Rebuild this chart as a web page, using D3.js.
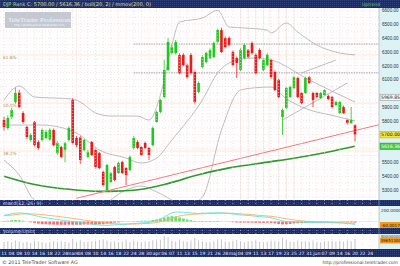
<!DOCTYPE html>
<html>
<head>
<meta charset="utf-8">
<script src="https://cdn.jsdelivr.net/npm/d3@7"></script>
<style>
  body { margin: 0; background: #fff; }
  svg { display: block; font-family: "DejaVu Sans", sans-serif; }
</style>
</head>
<body>
<div id="chart"></div>
<script>
// ---- data ----
const opens = [5806,5748,5828,5936,6005,5857,5756,5662,5792,5647,
  5662,5676,5665,5734,5567,5611,5589,5662,5951,5676,
  5680,5589,5539,5647,5589,5567,5430,5300,5358,5466,
  5423,5502,5459,5444,5604,5647,5611,5640,5604,5625,
  5792,5864,5973,6168,6291,6291,6277,6277,6204,6277,
  6154,6009,6190,6226,6255,6262,6371,6457,6400,6400,
  6298,6255,6168,6255,6313,6363,6277,6313,6168,6204,
  6240,6154,6096,5828,5893,5973,6038,6110,6002,6002,
  6117,6002,6002,5965,5987,5980,5973,5915,5857,5900,
  5806,5785,5770];
const closes = [5756,5821,5879,6002,5900,5792,5683,5698,5625,5604,
  5734,5720,5735,5625,5640,5539,5640,5748,5640,5625,
  5517,5662,5575,5553,5466,5459,5336,5481,5423,5372,
  5495,5423,5408,5539,5676,5604,5553,5604,5553,5748,
  5864,5951,6168,6371,6334,6371,6147,6204,6117,6147,
  5936,6074,6262,6291,6313,6363,6457,6298,6334,6349,
  6204,6219,6313,6349,6262,6291,6147,6255,6240,6277,
  6117,6023,5973,5879,6038,6045,6117,5973,5929,6110,
  6074,5951,5973,6002,6023,5958,5900,5936,5936,5857,
  5785,5806,5700];
const highs = [5830,5840,5895,6040,6025,5870,5765,5710,5800,5660,
  5745,5735,5748,5745,5650,5620,5650,5760,5965,5690,
  5690,5670,5590,5655,5600,5575,5440,5490,5430,5475,
  5505,5512,5468,5550,5690,5660,5620,5650,5610,5760,
  5875,5960,6240,6400,6350,6385,6290,6290,6215,6290,
  6165,6085,6275,6300,6325,6375,6470,6475,6410,6410,
  6310,6265,6325,6360,6320,6375,6290,6325,6250,6290,
  6250,6165,6105,5890,6045,6055,6125,6120,6010,6120,
  6125,6010,6010,6010,6030,5990,5980,5945,5945,5910,
  5815,5900,5775];
const lows = [5730,5735,5815,5925,5890,5780,5670,5650,5610,5590,
  5650,5665,5655,5615,5555,5530,5500,5650,5630,5610,
  5490,5580,5530,5545,5455,5450,5325,5290,5350,5362,
  5415,5415,5336,5435,5595,5595,5545,5595,5517,5615,
  5785,5855,5965,6160,6280,6280,6135,6195,6105,6135,
  5925,6000,6180,6215,6245,6255,6360,6290,6325,6340,
  6195,6110,6160,6245,6255,6280,6135,6245,6160,6195,
  6105,6015,5965,5698,5885,5965,6030,5965,5920,5995,
  6065,5900,5965,5958,5980,5950,5890,5905,5850,5850,
  5775,5778,5650];
// volume, millions
const volumes = [28,31,26,34,30,27,29,25,33,30, 26,24,27,31,29,32,28,26,41,30,
  35,28,27,30,33,36,38,34,29,31, 27,30,36,28,33,29,27,30,31,35,
  34,37,52,48,33,30,36,31,29,34, 44,33,30,28,27,31,35,38,30,29,
  33,36,31,28,30,32,35,29,27,30, 34,33,31,45,36,30,28,33,30,31,
  29,34,28,27,30,31,33,29,32,30, 34,31,40];
const macdLine = [110,120,135,145,150, 145,135,120,105,90,75,65,55,
  45,35,25,15,10,0,-10,-20,-25, -35,-45,-55,-60,-65,-65,-62,-58,-55,
  -50,-45,-40,-35,-30,-25,-20,-15, 0,20,45,80,120,150,165,
  165,160,155,150,140,140,145,145,150,150, 155,150,145,140,130,120,115,110,
  105,100,90,85,80,75,65,50,30, 10,0,-5,-5,-10,-15,-15,-15,-20,-20,
  -20,-20,-20,-22,-22,-25,-28,-35,-40,-50];
const signalLine = [100,105,112,120,127, 132,134,133,130,126,120,113,106,
  98,90,81,72,64,55,46,36,26, 16,6,-3,-12,-20,-27,-33,-38,-41,
  -43,-44,-44,-43,-41,-38,-35,-31, -25,-16,-4,13,34,57,78,
  95,108,118,125,129,132,135,137,140,142, 144,145,145,144,141,137,133,128,
  124,119,113,107,102,96,90,82,72, 60,48,37,28,20,13,7,3,-1,-5,
  -8,-11,-13,-15,-17,-19,-21,-24,-27,-32];

// bands and averages, sampled at candle indices
const upperIdx = [0,4,8,18,20,24,28,35,38,41,44,46,52,56,59,63,69,70,74,77,82,88,92];
const upperVal = [5951,6052,5973,5958,5936,5857,5835,5835,5806,5987,6349,6515,6544,6600,6479,6472,6457,6436,6508,6443,6349,6291,6277];
const midIdx = [0,10,19,25,32,36,40,44,52,56,59,65,70,80,92];
const midVal = [5770,5770,5712,5589,5531,5495,5531,5662,5951,6147,6219,6255,6240,6096,5936];
const lowerIdx = [0,4,8,14,25,32,36,40,48,52,57,62,66,70,74,80,86,92];
const lowerVal = [5517,5408,5227,5180,5190,5300,5329,5286,5191,5249,5734,6023,6040,6045,5960,5880,5840,5800];
const maIdx = [0,8,17,25,30,36,42,51,59,70,76,85,92];
const maVal = [5400,5340,5305,5290,5292,5305,5340,5410,5460,5505,5530,5575,5616];
const trendIdx = [19, 98.4];
const trendVal = [5240, 5773];
const channelA = { idx: [73, 90], val: [5806, 6074] };
const channelB = { idx: [78, 87], val: [6147, 6240] };
const levelLines = [6356, 6147];
const fibVal = [6277, 5929, 5582];
const fibLabels = ["61.8%", "50.0%", "38.2%"];
const markerIdx = [19, 62, 64, 66, 68, 69.5, 72, 74, 76];
const priceTicks = d3.range(5300, 6601, 100);
const dateLabels = ["11","04","08","10","14","16","18","22","24","mars","04","08","10","14","16","18","22","24",
  "28","30","apr","06","07","11","13","15","19","21","26","28","maj","04","09","11","13","17","19","23",
  "25","27","31","jun","07","09","14","16","20","22","24"];

// ---- layout ----
const W = 400, H = 266;
const PLOT = { left: 0, right: 379, top: 8, bottom: 200 };
const VOL = { top: 234, bottom: 249 };
const NAVY = "#1d2b5e";

const svg = d3.select("#chart").append("svg").attr("width", W).attr("height", H);
const defs = svg.append("defs");
const pat = defs.append("pattern").attr("id", "navy").attr("width", 2).attr("height", 2)
  .attr("patternUnits", "userSpaceOnUse");
pat.append("rect").attr("width", 2).attr("height", 2).attr("fill", NAVY);
pat.append("rect").attr("width", 1).attr("height", 1).attr("fill", "#34457e");
defs.append("clipPath").attr("id", "plotclip").append("rect")
  .attr("x", PLOT.left).attr("y", PLOT.top).attr("width", PLOT.right - PLOT.left).attr("height", PLOT.bottom - PLOT.top);

const X = d3.scaleLinear().domain([0, 92]).range([4, 355]);
const Y = d3.scaleLinear().domain([5300, 6600]).range([190, 10.3]);
const YM = d3.scaleLinear().domain([-60, 200]).range([225, 210]);
const YV = d3.scaleLinear().domain([0, 60]).range([VOL.bottom, VOL.top]);

// backgrounds
svg.append("rect").attr("width", W).attr("height", H).attr("fill", "#fff");
svg.append("rect").attr("x", PLOT.right).attr("y", PLOT.top).attr("width", W - PLOT.right).attr("height", VOL.bottom - PLOT.top).attr("fill", "#dcf2f5");
svg.append("rect").attr("x", 0).attr("y", 0).attr("width", W).attr("height", 8).attr("fill", "url(#navy)");
svg.append("rect").attr("x", 0).attr("y", 200).attr("width", W).attr("height", 6).attr("fill", "url(#navy)");
svg.append("rect").attr("x", 0).attr("y", 228).attr("width", W).attr("height", 6).attr("fill", "url(#navy)");
svg.append("rect").attr("x", 0).attr("y", 249).attr("width", W).attr("height", 8).attr("fill", "url(#navy)");

const plot = svg.append("g").attr("clip-path", "url(#plotclip)");

// grid
plot.selectAll("hgrid").data(d3.range(5250, 6651, 50)).enter().append("line")
  .attr("x1", 0).attr("x2", PLOT.right).attr("y1", d => Y(d)).attr("y2", d => Y(d))
  .attr("stroke", "#f1cccc").attr("stroke-width", 0.6).attr("stroke-dasharray", "1,2");
const gridIdx = d3.range(0, dateLabels.length).map(i => i * 2).filter(d => X(d) < PLOT.right);
svg.selectAll("vgrid").data(gridIdx).enter().append("line")
  .attr("x1", d => X(d)).attr("x2", d => X(d)).attr("y1", PLOT.top).attr("y2", VOL.bottom)
  .attr("stroke", "#f1cccc").attr("stroke-width", 0.6).attr("stroke-dasharray", "1,2");
plot.selectAll("marker").data(markerIdx).enter().append("line")
  .attr("x1", d => X(d)).attr("x2", d => X(d)).attr("y1", PLOT.top).attr("y2", PLOT.bottom)
  .attr("stroke", "#f4dada").attr("stroke-width", 0.5);

// fibonacci levels
plot.selectAll("fib").data(fibVal).enter().append("line")
  .attr("x1", 0).attr("x2", PLOT.right).attr("y1", d => Y(d)).attr("y2", d => Y(d))
  .attr("stroke", "#f6dcc4").attr("stroke-width", 0.7);
plot.selectAll("fibtxt").data(fibVal).enter().append("text")
  .attr("x", 3).attr("y", d => Y(d) + 4).attr("font-size", 4.3).attr("fill", "#b89060")
  .text((d, i) => fibLabels[i]);

// dashed horizontal levels
plot.selectAll("lvl").data(levelLines).enter().append("line")
  .attr("x1", X(34)).attr("x2", PLOT.right).attr("y1", d => Y(d)).attr("y2", d => Y(d))
  .attr("stroke", "#8a8a8a").attr("stroke-width", 0.8).attr("stroke-dasharray", "1.5,1");

// logo
svg.append("rect").attr("x", 5).attr("y", 12).attr("width", 66).attr("height", 16).attr("fill", "#c3c8d2");
svg.append("text").attr("x", 8).attr("y", 21.5).attr("font-size", 7).attr("fill", "#f4f6fa")
  .attr("font-family", "Liberation Serif, serif").text("TeleTrader Professional");
svg.append("text").attr("x", 14).attr("y", 26.3).attr("font-size", 3).attr("fill", "#f4f6fa")
  .text("http://professional.teletrader.com");

// bands
const bandLine = (idx, val) => d3.line().curve(d3.curveMonotoneX)
  .x((d, i) => X(idx[i])).y((d, i) => Y(val[i]))(val);
[[upperIdx, upperVal], [midIdx, midVal], [lowerIdx, lowerVal]].forEach(b => {
  plot.append("path").attr("d", bandLine(b[0], b[1])).attr("fill", "none")
    .attr("stroke", "#a0a0a0").attr("stroke-width", 0.7);
});
[channelA, channelB].forEach(c => {
  plot.append("path").attr("d", bandLine(c.idx, c.val)).attr("fill", "none")
    .attr("stroke", "#a0a0a0").attr("stroke-width", 0.7);
});

// 200 day average and trend line
plot.append("path").attr("d", bandLine(maIdx, maVal)).attr("fill", "none")
  .attr("stroke", "#2c9a2c").attr("stroke-width", 1.6);
plot.append("path").attr("d", d3.line().x((d, i) => X(trendIdx[i])).y((d, i) => Y(trendVal[i]))(trendVal))
  .attr("fill", "none").attr("stroke", "#f27a7a").attr("stroke-width", 1);

// candles
const idx = d3.range(closes.length);
const col = i => closes[i] >= opens[i] ? "#1ec81e" : "#ec1a1a";
plot.selectAll("wick").data(idx).enter().append("line")
  .attr("x1", i => X(i)).attr("x2", i => X(i)).attr("y1", i => Y(highs[i])).attr("y2", i => Y(lows[i]))
  .attr("stroke", col).attr("stroke-width", 0.8);
plot.selectAll("body").data(idx).enter().append("rect")
  .attr("x", i => X(i) - 1.3).attr("width", 2.6)
  .attr("y", i => Y(Math.max(opens[i], closes[i])))
  .attr("height", i => Math.max(1, Math.abs(Y(opens[i]) - Y(closes[i]))))
  .attr("fill", col);

// value tags on price axis
const tags = [
  { v: 5969.85, fill: "#f4f4f4", stroke: "#888", text: "#222" },
  { v: closes[closes.length - 1], fill: "#f2e63a", stroke: "#b8a800", text: "#222" },
  { v: maVal[maVal.length - 1] + 0.36, fill: "#48c848", stroke: "#2a8a2a", text: "#fff" }
];

// price axis (labels hidden under a tag are dropped)
const pAxis = svg.append("g").attr("transform", `translate(${PLOT.right},0)`)
  .call(d3.axisRight(Y).tickValues(priceTicks.filter(p => tags.every(t => Math.abs(Y(t.v) - Y(p)) > 6)))
    .tickFormat(d3.format(".2f")).tickSize(0).tickPadding(3));
pAxis.select(".domain").remove();
pAxis.selectAll("text").attr("font-size", 4.6).attr("fill", "#333");
svg.append("line").attr("x1", PLOT.right).attr("x2", PLOT.right).attr("y1", PLOT.top).attr("y2", VOL.bottom)
  .attr("stroke", "#9ab").attr("stroke-width", 0.6);

tags.forEach(t => {
  svg.append("rect").attr("x", PLOT.right + 1).attr("y", Y(t.v) - 3.2).attr("width", 20.5).attr("height", 6.4)
    .attr("fill", t.fill).attr("stroke", t.stroke).attr("stroke-width", 0.5);
  svg.append("text").attr("x", PLOT.right + 2).attr("y", Y(t.v) + 1.7).attr("font-size", 4.6).attr("fill", t.text)
    .text(d3.format(".2f")(t.v));
});

// macd panel
const mg = svg.append("g");
mg.append("line").attr("x1", 0).attr("x2", PLOT.right).attr("y1", YM(0)).attr("y2", YM(0))
  .attr("stroke", "#ddd").attr("stroke-width", 0.5);
mg.selectAll("hist").data(idx).enter().append("rect")
  .attr("x", i => X(i) - 1.4).attr("width", 2.8)
  .attr("y", i => Math.min(YM(0), YM(macdLine[i] - signalLine[i])))
  .attr("height", i => Math.abs(YM(macdLine[i] - signalLine[i]) - YM(0)))
  .attr("fill", i => macdLine[i] >= signalLine[i] ? "#6fdc6f" : "#f07070");
mg.append("path").attr("d", d3.line().x((d, i) => X(i)).y(d => YM(d))(signalLine))
  .attr("fill", "none").attr("stroke", "#f5b060").attr("stroke-width", 0.9);
mg.append("path").attr("d", d3.line().x((d, i) => X(i)).y(d => YM(d))(macdLine))
  .attr("fill", "none").attr("stroke", "#5fe0e8").attr("stroke-width", 0.9);
svg.append("text").attr("x", PLOT.right + 2).attr("y", YM(200) + 2).attr("font-size", 4.2).attr("fill", "#333").text("200.0000");
svg.append("rect").attr("x", PLOT.right + 1).attr("y", YM(-60) - 3).attr("width", 20.5).attr("height", 6).attr("fill", "#f39a1e");
svg.append("text").attr("x", PLOT.right + 2).attr("y", YM(-60) + 1.6).attr("font-size", 4.2).attr("fill", "#222").text("-60.0017");

// volume panel
svg.selectAll("vol").data(idx).enter().append("line")
  .attr("x1", i => X(i)).attr("x2", i => X(i)).attr("y1", YV(0)).attr("y2", i => YV(volumes[i]))
  .attr("stroke", "#b8b8b8").attr("stroke-width", 0.8);
svg.append("text").attr("x", PLOT.right + 1.5).attr("y", YV(52) + 2).attr("font-size", 4).attr("fill", "#333").text("40000000");
svg.append("rect").attr("x", PLOT.right + 1).attr("y", YV(volumes[volumes.length - 1]) - 1).attr("width", 20.5).attr("height", 5.5).attr("fill", "#f39a1e");
svg.append("text").attr("x", PLOT.right + 1.5).attr("y", YV(volumes[volumes.length - 1]) + 3).attr("font-size", 4).attr("fill", "#222").text("39651300");

// headers
const head = svg.append("text").attr("x", 3).attr("y", 6).attr("font-size", 5);
head.append("tspan").attr("fill", "#9fe05a").text("DJP Rank ");
head.append("tspan").attr("fill", "#e8e060").text("C: 5700.00 / 5616.36 / boll(20, 2) / mmov(200, 0)");
svg.append("text").attr("x", 362).attr("y", 6).attr("font-size", 4.5).attr("fill", "#3ee03e").text("Uptrend");
svg.append("text").attr("x", 3).attr("y", 204.8).attr("font-size", 4.8).attr("fill", "#c8d4ff").text("macd(12, 26, 9)");
svg.append("text").attr("x", 3).attr("y", 232.8).attr("font-size", 4.8).attr("fill", "#c8d4ff").text("Volume/Units");

// date axis
svg.selectAll("dlab").data(dateLabels).enter().append("text")
  .attr("x", (d, i) => X(i * 2)).attr("y", 255).attr("text-anchor", "middle")
  .attr("font-size", 4.5).attr("fill", "#e8ecff").text(d => d);

// footer
svg.append("text").attr("x", 2).attr("y", 264).attr("font-size", 4.8).attr("fill", "#444").text("© 2011 TeleTrader Software AG");
svg.append("text").attr("x", 398).attr("y", 264).attr("text-anchor", "end").attr("font-size", 4.5).attr("fill", "#444").text("http://professional.teletrader.com");
</script>
</body>
</html>
